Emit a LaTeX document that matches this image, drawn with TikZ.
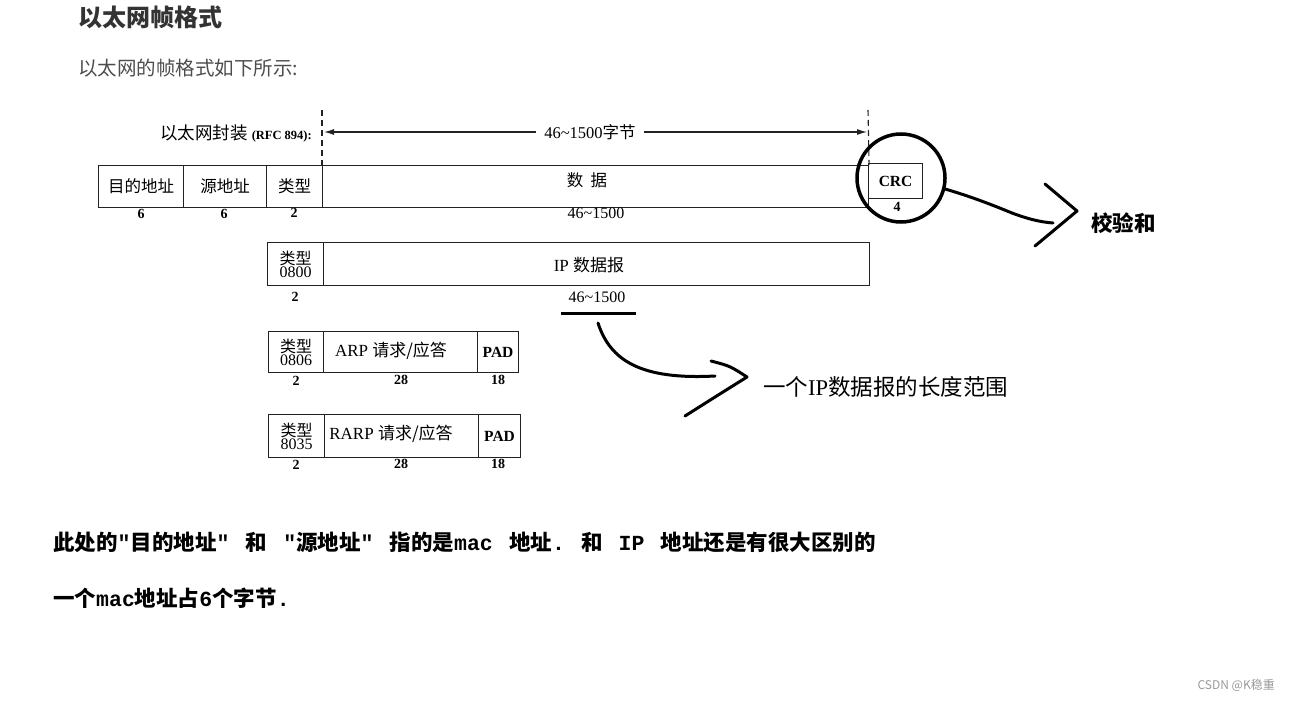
\documentclass[tikz,border=0pt]{standalone}
\usepackage{fontspec}
\setmainfont{Liberation Serif}
\setmonofont{Liberation Mono}
\newfontfamily\cjk{Noto Sans CJK SC}
\usetikzlibrary{arrows.meta}
\definecolor{titlecol}{HTML}{333333}
\definecolor{subcol}{HTML}{4D4D4D}
\definecolor{linecol}{HTML}{222222}
\definecolor{wmcol}{HTML}{999999}
\newcommand{\gapsp}{\hspace{0.75em}}
\begin{document}
\begin{tikzpicture}[x=1pt,y=-1pt,
  cell/.style={draw=linecol, line width=1.1pt, inner sep=0pt, anchor=north west, text=black,
    font=\cjk\fontsize{16.5}{18}\selectfont},
  typecell/.style={cell, align=center, font=\fontsize{16}{13}\selectfont},
  numlab/.style={inner sep=0pt, font=\bfseries\fontsize{14}{16}\selectfont},
  lenlab/.style={inner sep=0pt, font=\fontsize{16}{18}\selectfont},
  padlab/.style={font=\bfseries\fontsize{15.5}{17}\selectfont},
  hand/.style={line width=3pt, line cap=round, line join=round, black},
  note/.style={inner sep=0pt, anchor=west, font=\cjk\fontsize{22.5}{26}\selectfont},
  bottomtext/.style={inner sep=0pt, anchor=west, font=\cjk\bfseries\fontsize{21.5}{24}\selectfont}
]
\fill[white] (0,0) rectangle (1289,701);
\useasboundingbox (0,0) rectangle (1289,701);

% header texts
\node[inner sep=0pt, anchor=west, text=titlecol, font=\cjk\bfseries\fontsize{24}{28}\selectfont] (title) at (78,17) {以太网帧格式};
\node[inner sep=0pt, anchor=west, text=subcol, font=\cjk\fontsize{19.5}{22}\selectfont] (sub) at (78,68) {以太网的帧格式如下所示:};

% row 1
\node[cell, minimum width=85, minimum height=42] (dst) at (98,165) {目的地址};
\node[cell, minimum width=83, minimum height=42] (src) at (183,165) {源地址};
\node[cell, minimum width=56, minimum height=42] (typ) at (266,165) {类型};
\node[cell, minimum width=546, minimum height=42] (data) at (322,165) {};
\node[inner sep=0pt, font=\cjk\fontsize{16.5}{18}\selectfont] (datat) at (587,180) {数\hspace{0.45em}据};
\node[cell, minimum width=54, minimum height=35, padlab] (crc) at (868,163) {CRC};

\node[numlab] (l1a) at (141,214) {6};
\node[numlab] (l1b) at (224,214) {6};
\node[numlab] (l1c) at (294,213) {2};
\node[lenlab] (l1d) at (596,213) {46\textasciitilde1500};
\node[numlab] (l1e) at (897,207) {4};

% encapsulation line
\coordinate (dtl) at (322,110);
\coordinate (dtr) at (868,110);
\draw[linecol, line width=1.1pt, dash pattern=on 6pt off 4pt] (dtl) -- (data.north west);
\draw[linecol, line width=1.1pt, dash pattern=on 6pt off 4pt] (dtr) -- (data.north east);
\node[inner sep=0pt, anchor=east, font=\cjk\fontsize{17.5}{19}\selectfont] (encap) at (312,133) {以太网封装 {\rmfamily\bfseries\fontsize{12.5}{14}\selectfont (RFC 894):}};
\node[inner sep=0pt, font=\fontsize{16.5}{18}\selectfont] (len) at (590,132) {46\textasciitilde1500{\cjk 字节}};
\draw[linecol, line width=1.1pt, -{Latex[length=10pt,width=6pt]}] ([xshift=-8pt]len.west) -- ([xshift=2pt]dtl |- len);
\draw[linecol, line width=1.1pt, -{Latex[length=10pt,width=6pt]}] ([xshift=8pt]len.east) -- ([xshift=-1pt]dtr |- len);

% circle around CRC
\node[circle, draw=black, line width=3.5pt, minimum size=88pt, inner sep=0pt] (circ) at (901,178) {};
\coordinate (a1) at (1053,223);
\draw[hand] (circ.-14) .. controls (972,197) and (990,204) .. (1012,213)
  .. controls (1028,219) and (1040,222) .. (a1);
\coordinate (h1a) at (1045,184);
\coordinate (h1b) at (1077,211);
\coordinate (h1c) at (1035,246);
\draw[hand] (h1a) -- (h1b) -- (h1c);
\node[note, font=\cjk\bfseries\fontsize{21.5}{24}\selectfont] (chk) at (1091,223) {校验和};

% row 2
\node[typecell, minimum width=56, minimum height=43] (t2) at (267,242) {{\cjk 类型}\\0800};
\node[cell, minimum width=546, minimum height=43] (ip) at (323,242) {};
\node[inner sep=0pt, font=\fontsize{17}{19}\selectfont] (ipt) at (589,265) {IP {\cjk 数据报}};
\node[numlab] (l2a) at (295,297) {2};
\node[lenlab] (l2b) at (597,297) {46\textasciitilde1500};
\coordinate (ul1) at (561,313);
\coordinate (ul2) at (636,313);
\draw[line width=3pt] (ul1) -- (ul2);

% annotation arrow 2
\coordinate (c0) at (598,323);
\coordinate (c1) at (715,376);
\draw[hand] (c0) .. controls (610,360) and (640,380) .. (c1);
\coordinate (h2a) at (711,361);
\coordinate (h2b) at (747,377);
\coordinate (h2c) at (685,416);
\draw[hand] (h2a) .. controls (730,366) .. (h2b) .. controls (715,397) .. (h2c);
\node[note] (ipnote) at (763,387) {一个{\rmfamily IP}数据报的长度范围};

% row 3
\node[typecell, minimum width=55, minimum height=41] (t3) at (268,331) {{\cjk 类型}\\0806};
\node[cell, minimum width=154, minimum height=41] (arp) at (323,331) {};
\node[inner sep=0pt, font=\fontsize{17}{19}\selectfont] (arpt) at (391,351) {ARP {\cjk 请求/应答}};
\node[cell, minimum width=41, minimum height=41, padlab] (pad3) at (477,331) {PAD};
\node[numlab] (l3a) at (296,381) {2};
\node[numlab] (l3b) at (401,380) {28};
\node[numlab] (l3c) at (498,380) {18};

% row 4
\node[typecell, minimum width=56, minimum height=43] (t4) at (268,414) {{\cjk 类型}\\8035};
\node[cell, minimum width=154, minimum height=43] (rarp) at (324,414) {};
\node[inner sep=0pt, font=\fontsize{17}{19}\selectfont] (rarpt) at (391,434) {RARP {\cjk 请求/应答}};
\node[cell, minimum width=42, minimum height=43, padlab] (pad4) at (478,414) {PAD};
\node[numlab] (l4a) at (296,465) {2};
\node[numlab] (l4b) at (401,464) {28};
\node[numlab] (l4c) at (498,464) {18};

% bottom text
\node[bottomtext] (b1) at (53,542) {此处的{\ttfamily"}目的地址{\ttfamily"}\gapsp 和\gapsp{\ttfamily"}源地址{\ttfamily"}\gapsp 指的是{\ttfamily mac}\gapsp 地址{\ttfamily.}\gapsp 和\gapsp{\ttfamily IP}\gapsp 地址还是有很大区别的};
\node[bottomtext] (b2) at (53,598) {一个{\ttfamily mac}地址占{\ttfamily 6}个字节{\ttfamily.}};

% watermark
\node[inner sep=0pt, anchor=east, text=wmcol, font=\cjk\fontsize{12}{14}\selectfont] (wm) at (1275,685) {CSDN @K稳重};
\end{tikzpicture}
\end{document}
